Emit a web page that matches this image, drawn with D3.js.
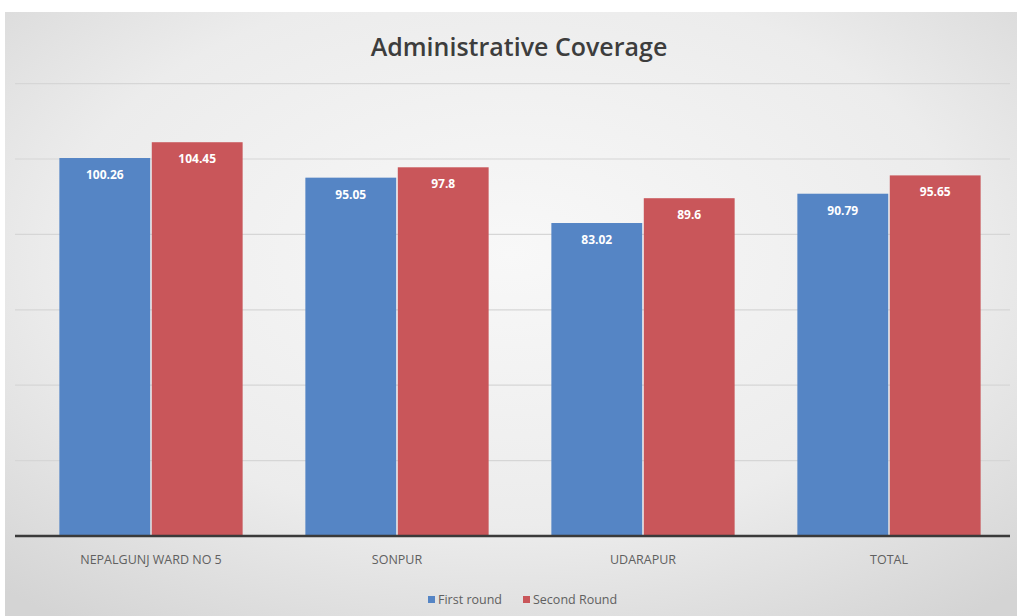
<!DOCTYPE html>
<html><head><meta charset="utf-8">
<script src="https://cdn.jsdelivr.net/npm/d3@7"></script>
<style>html,body{margin:0;padding:0;background:#fff;}svg{display:block;}</style>
</head><body>
<svg id="c" width="1017" height="616"></svg>
<script>
const categories = ["NEPALGUNJ WARD NO 5", "SONPUR", "UDARAPUR", "TOTAL"];
const seriesNames = ["First round", "Second Round"];
const firstRound = [100.26, 95.05, 83.02, 90.79];
const secondRound = [104.45, 97.8, 89.6, 95.65];
const yTicks = [0, 20, 40, 60, 80, 100, 120];
const colors = ["#5585c5", "#c9565a"];

const svg = d3.select("#c");
const defs = svg.append("defs");
const g = defs.append("radialGradient").attr("id","bg").attr("cx","50%").attr("cy","40%").attr("r","75%");
g.append("stop").attr("offset","0%").attr("stop-color","#f8f8f8");
g.append("stop").attr("offset","60%").attr("stop-color","#ececec");
g.append("stop").attr("offset","100%").attr("stop-color","#d4d4d4");
svg.append("rect").attr("x",5).attr("y",12).attr("width",1012).attr("height",604).attr("fill","url(#bg)");

const x0 = d3.scaleBand().domain(categories).range([28, 1012]).paddingInner(0.255).paddingOuter(0.1275);
const x1 = d3.scaleBand().domain(seriesNames).range([0, x0.bandwidth()]).paddingInner(0.017);
const y = d3.scaleLinear().domain([0, 120]).range([536, 83.6]);

// gridlines
svg.append("g").selectAll("line").data(yTicks.filter(d=>d>0)).join("line")
  .attr("x1",15).attr("x2",1010).attr("y1",d=>y(d)).attr("y2",d=>y(d))
  .attr("stroke","#d6d6d6").attr("stroke-width",1.2);

const data = categories.map((c,i)=>({cat:c, vals:[firstRound[i], secondRound[i]]}));
const grp = svg.append("g").selectAll("g").data(data).join("g")
  .attr("transform", d=>`translate(${x0(d.cat)},0)`);
grp.selectAll("rect").data(d=>d.vals.map((v,j)=>({v, s:seriesNames[j], j}))).join("rect")
  .attr("x", d=>x1(d.s)).attr("width", x1.bandwidth())
  .attr("y", d=>y(d.v)).attr("height", d=>y(0)-y(d.v))
  .attr("fill", d=>colors[d.j]);
grp.selectAll("text").data(d=>d.vals.map((v,j)=>({v, s:seriesNames[j], j}))).join("text")
  .attr("x", d=>x1(d.s)+x1.bandwidth()/2).attr("y", d=>y(d.v)+21)
  .attr("text-anchor","middle").attr("fill","#fff")
  .attr("font-family","'Open Sans',sans-serif").attr("font-weight","bold").attr("font-size",12)
  .text(d=>d.v);

// baseline axis
const xAxis = svg.append("g").attr("transform",`translate(0,${y(0)})`)
  .call(d3.axisBottom(x0).tickSize(0).tickPadding(19));
xAxis.select(".domain").attr("d","M15,0H1010").attr("stroke","#3a3a3a").attr("stroke-width",2.5);
xAxis.selectAll("text").attr("fill","#606060").attr("font-size",12.5)
  .attr("font-family","'Open Sans',sans-serif");

// title
svg.append("text").attr("x",519).attr("y",56).attr("text-anchor","middle")
  .attr("font-family","'Open Sans',sans-serif").attr("font-weight",600).attr("font-size",25)
  .attr("fill","#3d3d3d").text("Administrative Coverage");

// legend
const leg = svg.append("g").attr("transform","translate(428,604)");
const li = leg.selectAll("g").data(seriesNames).join("g").attr("transform",(d,i)=>`translate(${i*95},0)`);
li.append("rect").attr("x",0).attr("y",-8).attr("width",7).attr("height",7).attr("fill",(d,i)=>colors[i]);
li.append("text").attr("x",10).attr("y",0).attr("font-size",12.5).attr("fill","#606060")
  .attr("font-family","'Open Sans',sans-serif").text(d=>d);
</script>
</body></html>
